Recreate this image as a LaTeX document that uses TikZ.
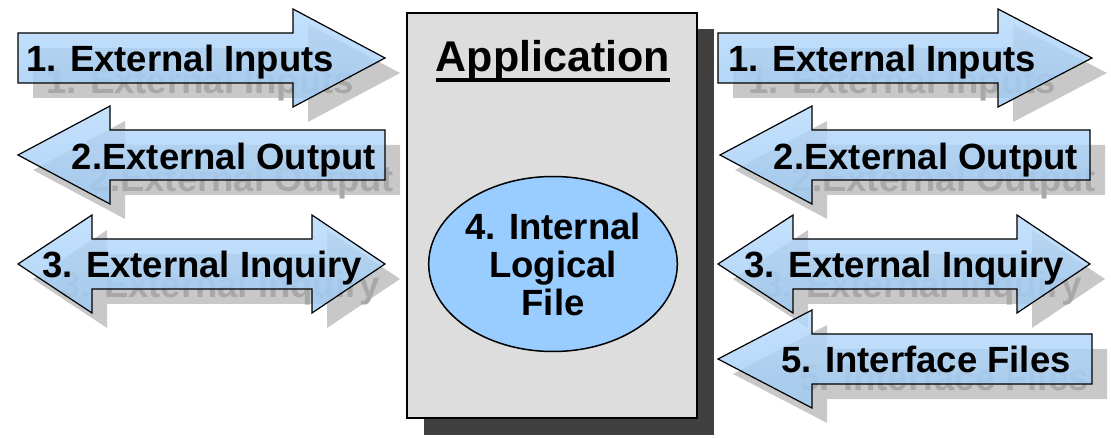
\documentclass[tikz,border=0pt]{standalone}
\usepackage{fontspec}
\setmainfont{Liberation Sans}
\usepackage{xcolor}
\usepackage{tikz}
\usetikzlibrary{shapes.geometric}

\definecolor{boxgray}{RGB}{221,221,221}
\definecolor{darkshadow}{RGB}{64,64,64}
\definecolor{lightshadow}{RGB}{200,200,200}
\definecolor{ghostgray}{RGB}{168,168,168}
\definecolor{filetop}{RGB}{184,219,252}
\definecolor{filebottom}{RGB}{158,202,244}
\definecolor{fileblue}{RGB}{153,204,255}

% outlines of the block arrows, centred on #4 (or #5)
\newcommand{\inflow}[4]{({#1},{#4-25}) -- ({#2},{#4-25}) -- ({#2},{#4-49}) -- ({#3},{#4}) -- ({#2},{#4+49}) -- ({#2},{#4+25}) -- ({#1},{#4+25}) -- cycle}
\newcommand{\outflow}[4]{({#1},{#4}) -- ({#2},{#4-49}) -- ({#2},{#4-25}) -- ({#3},{#4-25}) -- ({#3},{#4+25}) -- ({#2},{#4+25}) -- ({#2},{#4+49}) -- cycle}
\newcommand{\twoway}[5]{({#1},{#5}) -- ({#2},{#5-49}) -- ({#2},{#5-25}) -- ({#3},{#5-25}) -- ({#3},{#5-49}) -- ({#4},{#5}) -- ({#3},{#5+49}) -- ({#3},{#5+25}) -- ({#2},{#5+25}) -- ({#2},{#5+49}) -- cycle}

\begin{document}
\begin{tikzpicture}[x=1pt, y=-1pt,
    flowshadow/.style={fill=lightshadow, shift={(15,15)}},
    flow/.style={draw=black, line width=1.2pt, top color=filetop, bottom color=filebottom, fill opacity=0.82},
    label/.style={font=\fontsize{36.5}{40}\selectfont\bfseries, inner sep=0pt, anchor=base},
    ghost/.style={label, text=ghostgray}]
  \useasboundingbox (0,0) rectangle (1111,438);

  % application box
  \fill[darkshadow] (424,29) rectangle (714,435);
  \draw[fill=boxgray, line width=2pt] (407,13) rectangle (697,418);
  \node[font=\fontsize{43}{46}\selectfont\bfseries, inner sep=0pt, anchor=base] (app) at (553,72) {Application};
  \draw[line width=3.5pt] ([yshift=-8pt]app.base west) -- ([yshift=-8pt]app.base east);
  \node[ellipse, draw, line width=1.5pt, fill=fileblue, minimum width=237pt, minimum height=175pt, inner sep=0pt,
        align=center, font=\fontsize{36.5}{38}\selectfont\bfseries] (ilf) at (553,264) {4. Internal\\Logical\\File};

  % shadows
  \fill[flowshadow] \inflow{18}{293}{385}{58};
  \fill[flowshadow] \outflow{18}{110}{385}{155};
  \fill[flowshadow] \twoway{18}{92}{312}{385}{264};
  \fill[flowshadow] \inflow{718}{998}{1092}{58};
  \fill[flowshadow] \outflow{720}{812}{1090}{155};
  \fill[flowshadow] \twoway{718}{793}{1017}{1090}{264};
  \fill[flowshadow] \outflow{718}{812}{1092}{359};

  \node[ghost] (ei1g) at (200,94) {1. External Inputs};
  \node[ghost] (eo1g) at (242,192) {2.External Output};
  \node[ghost] (eq1g) at (220,298) {3. External Inquiry};
  \node[ghost] (ei2g) at (902,94) {1. External Inputs};
  \node[ghost] (eo2g) at (944,192) {2.External Output};
  \node[ghost] (eq2g) at (922,298) {3. External Inquiry};
  \node[ghost] (eifg) at (944,390) {5. Interface Files};

  % arrows
  \path[flow] \inflow{18}{293}{385}{58};
  \path[flow] \outflow{18}{110}{385}{155};
  \path[flow] \twoway{18}{92}{312}{385}{264};
  \path[flow] \inflow{718}{998}{1092}{58};
  \path[flow] \outflow{720}{812}{1090}{155};
  \path[flow] \twoway{718}{793}{1017}{1090}{264};
  \path[flow] \outflow{718}{812}{1092}{359};

  \node[label] (ei1) at (180,72) {1. External Inputs};
  \node[label] (eo1) at (224,170) {2.External Output};
  \node[label] (eq1) at (202,278) {3. External Inquiry};
  \node[label] (ei2) at (882,72) {1. External Inputs};
  \node[label] (eo2) at (926,170) {2.External Output};
  \node[label] (eq2) at (904,278) {3. External Inquiry};
  \node[label] (eif) at (926,372) {5. Interface Files};
\end{tikzpicture}
\end{document}
